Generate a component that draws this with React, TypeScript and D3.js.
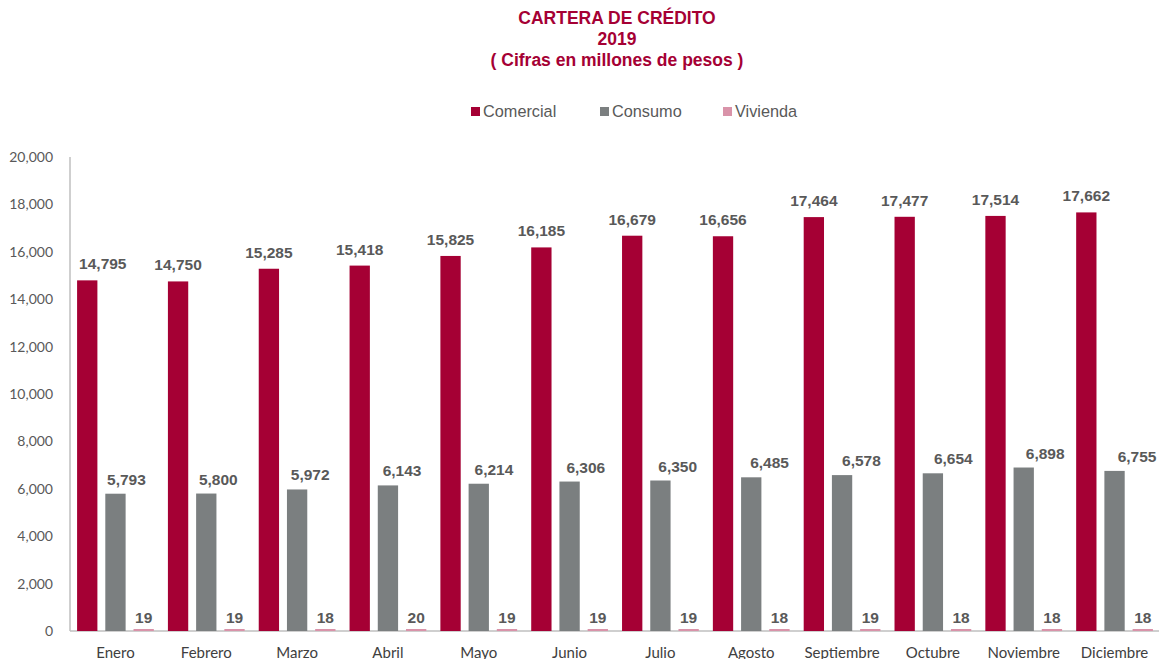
import React from "react";
import * as d3 from "d3";

const months = ["Enero","Febrero","Marzo","Abril","Mayo","Junio","Julio","Agosto","Septiembre","Octubre","Noviembre","Diciembre"];
const comercial = [14795,14750,15285,15418,15825,16185,16679,16656,17464,17477,17514,17662];
const consumo = [5793,5800,5972,6143,6214,6306,6350,6485,6578,6654,6898,6755];
const vivienda = [19,19,18,20,19,19,19,18,19,18,18,18];
const seriesNames = ["Comercial","Consumo","Vivienda"];
const seriesColors = ["#A50034","#7B7F80","#D993A9"];
const yTicks = [0,2000,4000,6000,8000,10000,12000,14000,16000,18000,20000];

const W = 1159, H = 659;
const left = 70, right = 1160, top = 157, bottom = 631;

export default function App() {
  const x = d3.scaleBand<string>().domain(months).range([left, right]).paddingInner(0.155).paddingOuter(0.078);
  const sub = d3.scaleBand<string>().domain(seriesNames).range([0, x.bandwidth()]).paddingInner(0.28);
  const y = d3.scaleLinear().domain([0, 20000]).range([bottom, top]);
  const series = [comercial, consumo, vivienda];
  const fmt = d3.format(",");
  const legendX = [471, 600, 723];
  const labelGap = [11, 9, 8];
  return (
    <svg width={W} height={H} style={{ position: "absolute", left: 0, top: 0, background: "#fff" }}>
      <g fontFamily="'Liberation Sans', Arial, sans-serif" fontWeight="bold" fill="#A50034" fontSize={17.5} textAnchor="middle">
        <text x={617} y={24}>CARTERA DE CRÉDITO</text>
        <text x={617} y={45}>2019</text>
        <text x={617} y={66}>( Cifras en millones de pesos )</text>
      </g>
      <g fontFamily="'Liberation Sans', Arial, sans-serif" fontSize={16.3} fill="#595959">
        {seriesNames.map((s, i) => (
          <g key={s}>
            <rect x={legendX[i]} y={107} width={9} height={9} fill={seriesColors[i]} />
            <text x={legendX[i] + 12} y={117}>{s}</text>
          </g>
        ))}
      </g>
      <g fontFamily="Lato, 'Open Sans', sans-serif" fontSize={14} fill="#595959" textAnchor="end">
        {yTicks.map(t => (
          <text key={t} x={53} y={y(t) + 5}>{fmt(t)}</text>
        ))}
      </g>
      <line x1={left} x2={left} y1={top} y2={bottom} stroke="#BFBFBF" strokeWidth={1.5} />
      <line x1={left} x2={W} y1={bottom} y2={bottom} stroke="#BFBFBF" strokeWidth={1.5} />
      {months.map((m, i) => (
        <g key={m}>
          {series.map((vals, si) => {
            const v = vals[i];
            const bx = (x(m) as number) + (sub(seriesNames[si]) as number);
            const h = Math.max(bottom - y(v), 2);
            let cx = bx + sub.bandwidth() / 2;
            if (si === 1) cx += 11 + i * 1.05;
            const halfW = fmt(v).length * 4.3;
            cx = Math.max(cx, left + 7 + halfW);
            return (
              <g key={si}>
                <rect x={bx} y={bottom - h} width={sub.bandwidth()} height={h} fill={seriesColors[si]} />
                <text x={cx} y={y(v) - labelGap[si]} textAnchor="middle"
                  fontFamily="'Liberation Sans', Arial, sans-serif" fontWeight="bold" fontSize={15.5} fill="#595959">{fmt(v)}</text>
              </g>
            );
          })}
          <text x={(x(m) as number) + x.bandwidth() / 2} y={658} textAnchor="middle"
            fontFamily="Lato, 'Open Sans', sans-serif" fontSize={15} fill="#404040">{m}</text>
        </g>
      ))}
    </svg>
  );
}
